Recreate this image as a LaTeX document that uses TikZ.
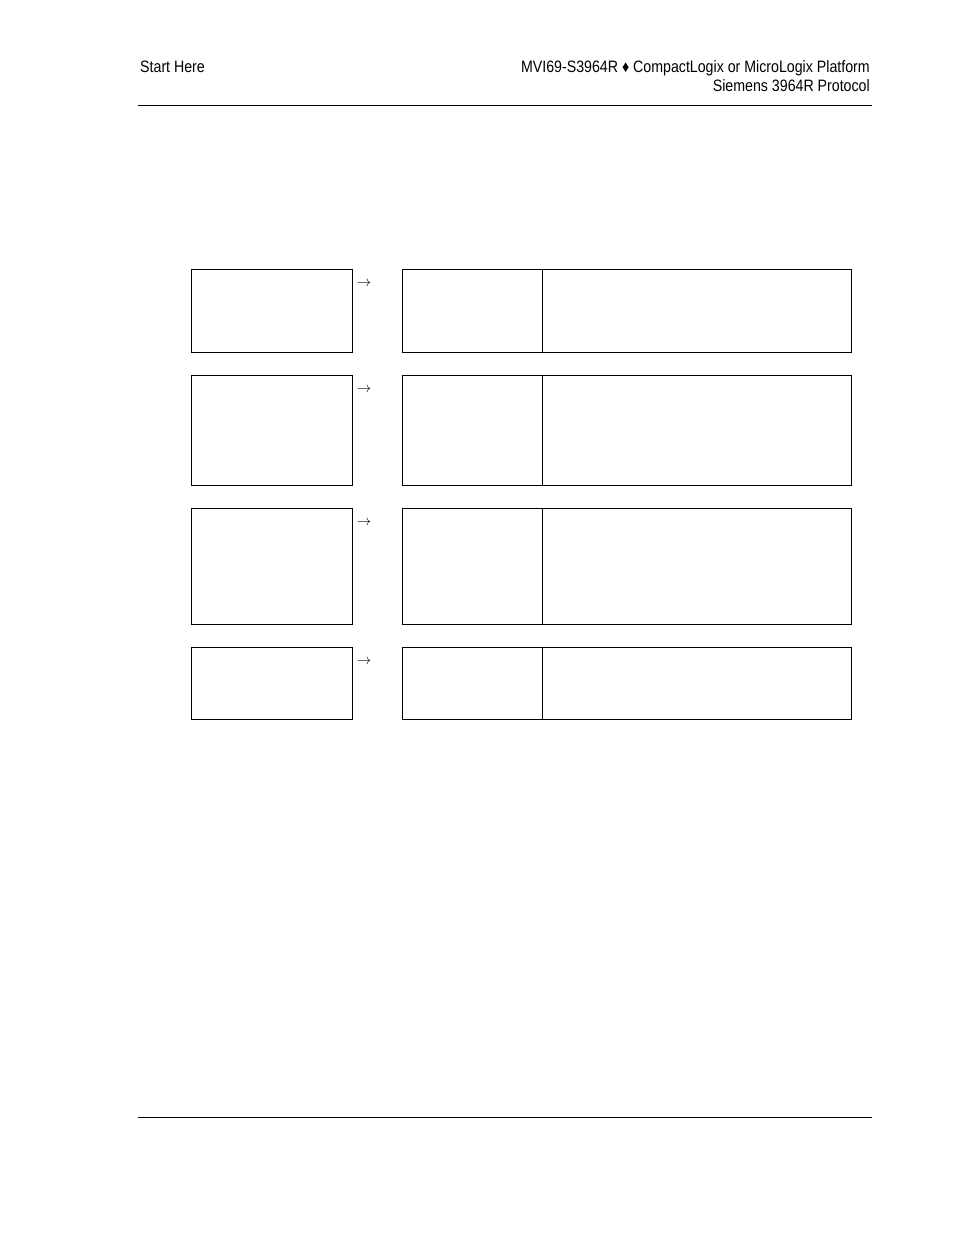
\documentclass[tikz,border=0pt]{standalone}
\usepackage{fontspec}
\setmainfont{Liberation Sans}[FakeStretch=0.86]
\begin{document}
\begin{tikzpicture}[x=1pt, y=-1pt,
    kasten/.style={draw, line width=1.3pt, inner sep=0pt, anchor=north west},
    kopf/.style={font=\fontsize{16.5}{19}\selectfont, inner sep=0pt}]
        \useasboundingbox (0,0) rectangle (954,1235);
        % Kopfzeile
        \node[kopf, anchor=base west] (links) at (140,72) {Start Here};
        \node[kopf, anchor=base east] (titel) at (870,72) {MVI69-S3964R ♦ CompactLogix or MicroLogix Platform};
        \node[kopf, anchor=base east] (protokoll) at (870,91) {Siemens 3964R Protocol};
        \draw[line width=0.8pt] (138,105) -- (872,105);
        % Kaesten
        \foreach \oben/\unten/\n in {269/352/1, 375/485/2, 508/624/3, 647/719/4}
        {
            \pgfmathsetmacro{\hoehe}{\unten-\oben}
            \node[kasten, minimum width=161pt, minimum height=\hoehe pt] (schritt\n) at (191,\oben) {};
            \node[kasten, minimum width=140pt, minimum height=\hoehe pt] (thema\n) at (402,\oben) {};
            \node[kasten, minimum width=309pt, minimum height=\hoehe pt] (text\n) at (542,\oben) {};
            \node[inner sep=0pt, font=\fontsize{14.5}{16}\selectfont] (pfeil\n) at (364,\oben+15) {$\rightarrow$};
        }
        % Fusszeile
        \draw[line width=0.8pt] (138,1117) -- (872,1117);
\end{tikzpicture}
\end{document}
